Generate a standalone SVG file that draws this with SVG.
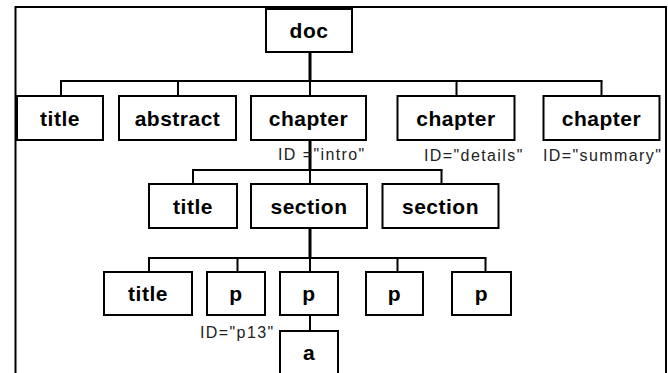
<svg xmlns="http://www.w3.org/2000/svg" width="668" height="373" viewBox="0 0 668 373">
<style>
.frame{fill:none;stroke:#000;stroke-width:2}
.box rect{fill:#fff;stroke:#000;stroke-width:2}
.box text{font-family:"Liberation Sans",Arial,sans-serif;font-weight:bold;font-size:21px;letter-spacing:0.5px;text-anchor:middle;fill:#000}
.edges line{stroke:#000;stroke-width:2}
.edges line.thick{stroke-width:3}
.id{font-family:"Liberation Sans",Arial,sans-serif;font-size:16px;letter-spacing:1.4px;fill:#222}
</style>
<rect x="0" y="0" width="668" height="373" fill="#fff"/>
<path class="frame" d="M15.5,373 V7 H666 V373"/>
<g class="edges">
<line class="thick" x1="310" y1="52" x2="310" y2="81"/>
<line x1="60" y1="81" x2="602.5" y2="81"/>
<line x1="61" y1="81" x2="61" y2="96"/>
<line x1="178" y1="81" x2="178" y2="96"/>
<line x1="310" y1="81" x2="310" y2="96"/>
<line x1="456.5" y1="81" x2="456.5" y2="96"/>
<line x1="601.5" y1="81" x2="601.5" y2="96"/>
<line class="thick" x1="310" y1="140" x2="310" y2="170"/>
<line x1="192" y1="170" x2="442.5" y2="170"/>
<line x1="193" y1="170" x2="193" y2="184"/>
<line x1="310" y1="170" x2="310" y2="184"/>
<line x1="441.5" y1="170" x2="441.5" y2="184"/>
<line class="thick" x1="310" y1="228" x2="310" y2="258"/>
<line x1="148" y1="258" x2="486.5" y2="258"/>
<line x1="149" y1="258" x2="149" y2="272"/>
<line x1="237.5" y1="258" x2="237.5" y2="272"/>
<line x1="310" y1="258" x2="310" y2="272"/>
<line x1="397.5" y1="258" x2="397.5" y2="272"/>
<line x1="485.5" y1="258" x2="485.5" y2="272"/>
<line x1="310" y1="315" x2="310" y2="331"/>
</g>
<g id="doc" class="box"><rect x="266" y="9" width="86" height="43"/><text x="309" y="37.5">doc</text></g>
<g id="title1" class="box"><rect x="17" y="96" width="86" height="44"/><text x="60" y="125.5">title</text></g>
<g id="abstract" class="box"><rect x="119" y="96" width="117" height="44"/><text x="177.5" y="125.5">abstract</text></g>
<g id="chapter1" class="box"><rect x="251" y="96" width="115" height="44"/><text x="308.5" y="125.5">chapter</text></g>
<g id="chapter2" class="box"><rect x="397.5" y="96" width="117" height="44"/><text x="456" y="125.5">chapter</text></g>
<g id="chapter3" class="box"><rect x="543.5" y="96" width="116" height="44"/><text x="601.5" y="125.5">chapter</text></g>
<text class="id" x="278" y="160">ID ="intro"</text>
<text class="id" x="424" y="161">ID="details"</text>
<text class="id" x="543" y="161">ID="summary"</text>
<g id="title2" class="box"><rect x="149" y="184" width="88" height="44"/><text x="193" y="213.5">title</text></g>
<g id="section1" class="box"><rect x="251" y="184" width="116" height="44"/><text x="309" y="213.5">section</text></g>
<g id="section2" class="box"><rect x="382.5" y="184" width="116" height="44"/><text x="440.5" y="213.5">section</text></g>
<g id="title3" class="box"><rect x="104" y="272" width="88" height="43"/><text x="148" y="301">title</text></g>
<g id="p1" class="box"><rect x="207" y="272" width="58" height="43"/><text x="236" y="301">p</text></g>
<g id="p2" class="box"><rect x="280" y="272" width="58" height="43"/><text x="309" y="301">p</text></g>
<g id="p3" class="box"><rect x="366" y="272" width="57" height="43"/><text x="394.5" y="301">p</text></g>
<g id="p4" class="box"><rect x="452" y="272" width="59" height="43"/><text x="481.5" y="301">p</text></g>
<text class="id" x="200" y="338">ID="p13"</text>
<g id="a" class="box"><rect x="280" y="331" width="58" height="50"/><text x="309" y="360">a</text></g>
</svg>
